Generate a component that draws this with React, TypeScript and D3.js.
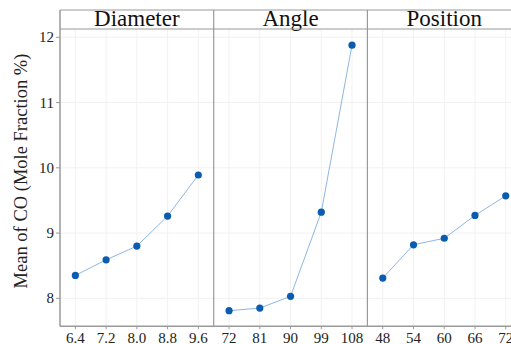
import React from "react";
import * as d3 from "d3";

const panelTitles = ["Diameter", "Angle", "Position"];
const diameterLevels = ["6.4", "7.2", "8.0", "8.8", "9.6"];
const diameterMeans = [8.35, 8.59, 8.8, 9.26, 9.89];
const angleLevels = ["72", "81", "90", "99", "108"];
const angleMeans = [7.81, 7.85, 8.03, 9.32, 11.88];
const positionLevels = ["48", "54", "60", "66", "72"];
const positionMeans = [8.31, 8.82, 8.92, 9.27, 9.57];
const yTicks = [8, 9, 10, 11, 12];
const yTitle = "Mean of CO (Mole Fraction %)";

const panels = [
  { title: panelTitles[0], levels: diameterLevels, means: diameterMeans },
  { title: panelTitles[1], levels: angleLevels, means: angleMeans },
  { title: panelTitles[2], levels: positionLevels, means: positionMeans },
];

export default function App() {
  const W = 511, H = 344;
  const left = 60, panelW = 153.7;
  const stripTop = 10, plotTop = 29, plotBottom = 326.3;
  const font = "'Liberation Serif', 'Times New Roman', serif";
  const y = d3.scaleLinear().domain([8, 12]).range([298.3, 37.3]);
  const gridC = "#f1f1f1";
  const borderC = "#9a9a9a";
  const lineGen = d3.line<[number, number]>().x((d) => d[0]).y((d) => d[1]);

  return (
    <svg width={W} height={H} style={{ position: "absolute", left: 0, top: 0, background: "#fff" }} fontFamily={font}>
      {panels.map((p, i) => {
        const x0 = left + i * panelW;
        const x = d3.scalePoint<string>().domain(p.levels).range([x0, x0 + panelW]).padding(0.5);
        const pts: [number, number][] = p.levels.map((l, j) => [x(l)!, y(p.means[j])]);
        return (
          <g key={p.title}>
            {yTicks.map((t) => (
              <line key={t} x1={x0} x2={x0 + panelW} y1={y(t)} y2={y(t)} stroke={gridC} />
            ))}
            {p.levels.map((l) => (
              <line key={l} x1={x(l)} x2={x(l)} y1={plotTop} y2={plotBottom} stroke={gridC} />
            ))}
            <path d={lineGen(pts)!} fill="none" stroke="#8fb6e3" strokeWidth={1} />
            {pts.map((d, j) => (
              <circle key={j} cx={d[0]} cy={d[1]} r={3.6} fill="#0a5cb0" />
            ))}
            {p.levels.map((l) => (
              <g key={"t" + l}>
                <line x1={x(l)} x2={x(l)} y1={plotBottom} y2={plotBottom + 3} stroke={borderC} />
                <text x={x(l)} y={plotBottom + 17} textAnchor="middle" fontSize={15} fill="#222">
                  {l}
                </text>
              </g>
            ))}
            <text x={x0 + panelW / 2} y={plotTop - 3} textAnchor="middle" fontSize={23} fill="#111">
              {p.title}
            </text>
            {i > 0 && <line x1={x0} x2={x0} y1={stripTop} y2={plotBottom} stroke={borderC} strokeWidth={1.2} />}
          </g>
        );
      })}
      <line x1={left} x2={W + 20} y1={stripTop} y2={stripTop} stroke={borderC} strokeWidth={1.2} />
      <line x1={left} x2={W + 20} y1={plotTop} y2={plotTop} stroke={borderC} strokeWidth={1.2} />
      <line x1={left} x2={left} y1={stripTop} y2={plotBottom} stroke={borderC} strokeWidth={1.5} />
      <line x1={left} x2={W + 20} y1={plotBottom} y2={plotBottom} stroke={borderC} strokeWidth={1.5} />
      {yTicks.map((t) => (
        <g key={"y" + t}>
          <line x1={left - 4} x2={left} y1={y(t)} y2={y(t)} stroke={borderC} />
          <text x={left - 6} y={y(t) + 5} textAnchor="end" fontSize={15} fill="#222">
            {t}
          </text>
        </g>
      ))}
      <text
        transform={`translate(27, ${171}) rotate(-90)`}
        textAnchor="middle"
        fontSize={18.5}
        fill="#222"
      >
        {yTitle}
      </text>
    </svg>
  );
}
